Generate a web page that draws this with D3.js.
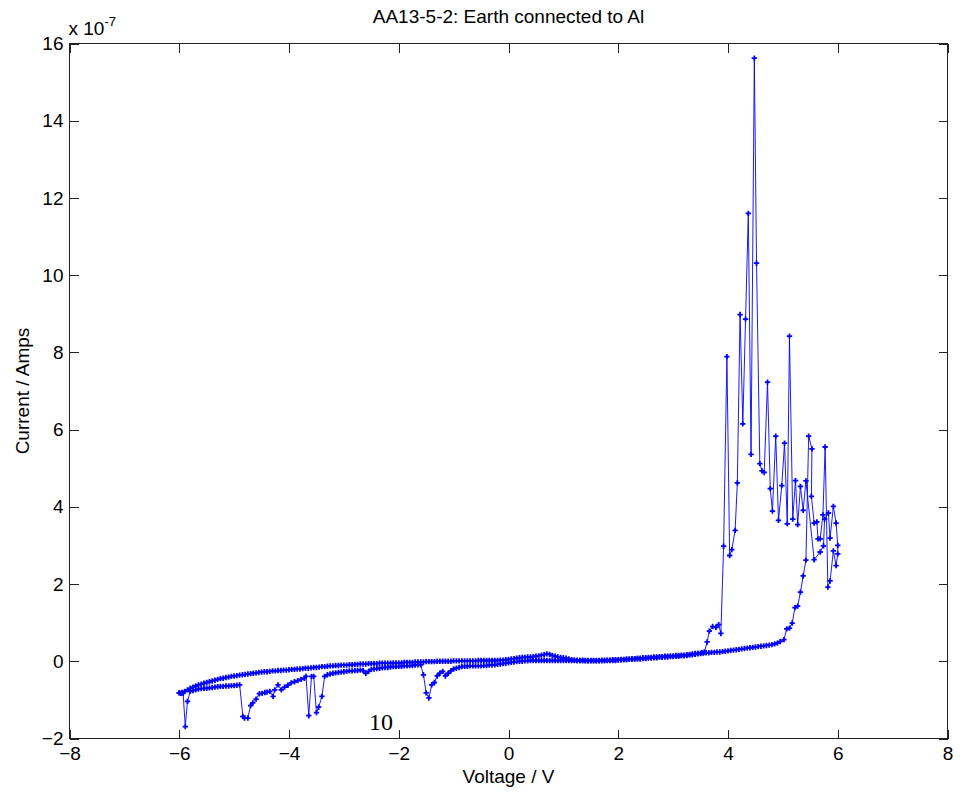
<!DOCTYPE html>
<html>
<head>
<meta charset="utf-8">
<script src="https://cdn.jsdelivr.net/npm/d3@7"></script>
<style>
  body { margin: 0; background: #fff; }
  svg { display: block; font-family: "Liberation Sans", Arial, sans-serif; }
</style>
</head>
<body>
<div id="chart"></div>
<script>
// axis ticks
const xTicks = [-8, -6, -4, -2, 0, 2, 4, 6, 8];
const yTicks = [-2, 0, 2, 4, 6, 8, 10, 12, 14, 16];

// forward sweep, -6 V up to +6 V  -> [volts, current in 1e-7 A]
const forwardSweep = [
  [-6.00,-0.82],[-5.95,-0.81],[-5.90,-0.78],[-5.85,-0.74],[-5.80,-0.70],[-5.75,-0.67],[-5.70,-0.64],[-5.65,-0.61],
  [-5.60,-0.59],[-5.55,-0.57],[-5.50,-0.55],[-5.45,-0.53],[-5.40,-0.51],[-5.35,-0.49],[-5.30,-0.47],[-5.25,-0.45],
  [-5.20,-0.44],[-5.15,-0.42],[-5.10,-0.41],[-5.05,-0.39],[-5.00,-0.38],[-4.95,-0.37],[-4.90,-0.36],[-4.85,-0.35],
  [-4.80,-0.34],[-4.75,-0.33],[-4.70,-0.32],[-4.65,-0.31],[-4.60,-0.30],[-4.55,-0.29],[-4.50,-0.28],[-4.45,-0.27],
  [-4.40,-0.27],[-4.35,-0.26],[-4.30,-0.25],[-4.25,-0.25],[-4.20,-0.24],[-4.15,-0.24],[-4.10,-0.23],[-4.05,-0.23],
  [-4.00,-0.22],[-3.95,-0.21],[-3.90,-0.21],[-3.85,-0.20],[-3.80,-0.20],[-3.75,-0.19],[-3.70,-0.18],[-3.65,-0.18],
  [-3.60,-0.17],[-3.55,-0.16],[-3.50,-0.16],[-3.45,-0.15],[-3.40,-0.14],[-3.35,-0.14],[-3.30,-0.13],[-3.25,-0.12],
  [-3.20,-0.12],[-3.15,-0.11],[-3.10,-0.11],[-3.05,-0.10],[-3.00,-0.10],[-2.95,-0.10],[-2.90,-0.09],[-2.85,-0.09],
  [-2.80,-0.08],[-2.75,-0.08],[-2.70,-0.07],[-2.65,-0.07],[-2.60,-0.07],[-2.55,-0.06],[-2.50,-0.06],[-2.45,-0.06],
  [-2.40,-0.06],[-2.35,-0.05],[-2.30,-0.05],[-2.25,-0.05],[-2.20,-0.05],[-2.15,-0.05],[-2.10,-0.04],[-2.05,-0.04],
  [-2.00,-0.04],[-1.95,-0.04],[-1.90,-0.03],[-1.85,-0.03],[-1.80,-0.03],[-1.75,-0.03],[-1.70,-0.02],[-1.65,-0.02],
  [-1.60,-0.02],[-1.55,-0.02],[-1.50,-0.01],[-1.45,-0.01],[-1.40,-0.01],[-1.35,-0.01],[-1.30,0.00],[-1.25,0.00],
  [-1.20,0.00],[-1.15,0.00],[-1.10,0.00],[-1.05,0.00],[-1.00,0.01],[-0.95,0.01],[-0.90,0.01],[-0.85,0.01],
  [-0.80,0.01],[-0.75,0.01],[-0.70,0.01],[-0.65,0.01],[-0.60,0.01],[-0.55,0.02],[-0.50,0.02],[-0.45,0.02],
  [-0.40,0.02],[-0.35,0.02],[-0.30,0.02],[-0.25,0.02],[-0.20,0.02],[-0.15,0.03],[-0.10,0.03],[-0.05,0.04],
  [0.00,0.05],[0.05,0.06],[0.10,0.07],[0.15,0.08],[0.20,0.09],[0.25,0.10],[0.30,0.10],[0.35,0.11],
  [0.40,0.11],[0.45,0.12],[0.50,0.13],[0.55,0.14],[0.60,0.16],[0.65,0.17],[0.70,0.19],[0.75,0.18],
  [0.80,0.15],[0.85,0.13],[0.90,0.11],[0.95,0.10],[1.00,0.09],[1.05,0.08],[1.10,0.06],[1.15,0.04],
  [1.20,0.03],[1.25,0.02],[1.30,0.02],[1.35,0.02],[1.40,0.01],[1.45,0.01],[1.50,0.01],[1.55,0.01],
  [1.60,0.01],[1.65,0.01],[1.70,0.01],[1.75,0.01],[1.80,0.02],[1.85,0.02],[1.90,0.02],[1.95,0.02],
  [2.00,0.03],[2.05,0.03],[2.10,0.04],[2.15,0.04],[2.20,0.05],[2.25,0.05],[2.30,0.06],[2.35,0.06],
  [2.40,0.06],[2.45,0.07],[2.50,0.07],[2.55,0.08],[2.60,0.08],[2.65,0.09],[2.70,0.09],[2.75,0.10],
  [2.80,0.10],[2.85,0.11],[2.90,0.11],[2.95,0.12],[3.00,0.12],[3.05,0.13],[3.10,0.13],[3.15,0.14],
  [3.20,0.14],[3.25,0.15],[3.30,0.16],[3.35,0.17],[3.40,0.18],[3.45,0.19],[3.50,0.20],[3.55,0.21],
  [3.60,0.22],[3.65,0.22],[3.70,0.23],[3.75,0.23],[3.80,0.24],[3.85,0.24],[3.90,0.25],[3.95,0.26],
  [4.00,0.27],[4.05,0.28],[4.10,0.29],[4.15,0.30],[4.20,0.31],[4.25,0.32],[4.30,0.33],[4.35,0.34],
  [4.40,0.35],[4.45,0.36],[4.50,0.37],[4.55,0.38],[4.60,0.39],[4.65,0.40],[4.70,0.41],[4.75,0.42],
  [4.80,0.43],[4.85,0.45],[4.90,0.47],[4.95,0.51],[5.02,0.56],[5.07,0.84],[5.12,0.86],[5.17,0.99],
  [5.22,1.39],[5.27,1.43],[5.32,1.79],[5.37,2.21],[5.42,2.62],[5.47,5.83],[5.53,5.50],[5.52,4.27],
  [5.57,3.58],[5.62,3.61],[5.64,3.17],[5.68,3.17],[5.73,3.79],[5.77,5.55],[5.82,1.92],[5.86,2.08],
  [5.92,2.86],[5.97,2.48],[6.00,2.78]
];

// reverse sweep, +6 V back down to -6 V
const reverseSweep = [
  [6.00,3.00],[5.97,3.58],[5.92,4.01],[5.86,3.19],[5.83,3.84],[5.76,3.68],[5.74,2.99],[5.68,2.83],
  [5.57,2.63],[5.42,4.67],[5.37,3.91],[5.32,4.53],[5.27,3.54],[5.23,4.68],[5.18,3.68],[5.12,8.42],
  [5.08,3.56],[5.03,5.65],[4.98,4.55],[4.92,3.65],[4.87,5.83],[4.81,3.89],[4.77,4.47],[4.72,7.23],
  [4.66,4.89],[4.62,4.93],[4.58,5.12],[4.52,10.31],[4.48,15.62],[4.42,5.36],[4.37,11.60],[4.32,8.86],
  [4.27,6.15],[4.22,8.98],[4.17,4.62],[4.13,3.39],[4.07,2.89],[4.03,2.74],[3.98,7.89],[3.92,2.98],
  [3.87,0.72],[3.83,0.95],[3.78,0.88],[3.72,0.90],[3.66,0.78],[3.62,0.50],[3.57,0.24],[3.52,0.22],
  [3.45,0.21],[3.40,0.20],[3.35,0.19],[3.30,0.18],[3.25,0.17],[3.20,0.16],[3.15,0.16],[3.10,0.15],
  [3.05,0.15],[3.00,0.14],[2.95,0.14],[2.90,0.13],[2.85,0.13],[2.80,0.12],[2.75,0.12],[2.70,0.11],
  [2.65,0.11],[2.60,0.10],[2.55,0.10],[2.50,0.09],[2.45,0.09],[2.40,0.08],[2.35,0.08],[2.30,0.07],
  [2.25,0.07],[2.20,0.06],[2.15,0.06],[2.10,0.05],[2.05,0.05],[2.00,0.04],[1.95,0.04],[1.90,0.04],
  [1.85,0.03],[1.80,0.03],[1.75,0.03],[1.70,0.03],[1.65,0.02],[1.60,0.02],[1.55,0.02],[1.50,0.02],
  [1.45,0.02],[1.40,0.02],[1.35,0.02],[1.30,0.02],[1.25,0.02],[1.20,0.02],[1.15,0.02],[1.10,0.02],
  [1.05,0.02],[1.00,0.02],[0.95,0.02],[0.90,0.02],[0.85,0.02],[0.80,0.02],[0.75,0.02],[0.70,0.02],
  [0.65,0.02],[0.60,0.02],[0.55,0.02],[0.50,0.02],[0.45,0.02],[0.40,0.02],[0.35,0.01],[0.30,0.01],
  [0.25,0.00],[0.20,0.00],[0.15,-0.01],[0.10,-0.02],[0.05,-0.03],[0.00,-0.04],[-0.05,-0.05],[-0.10,-0.06],
  [-0.15,-0.07],[-0.20,-0.08],[-0.25,-0.09],[-0.30,-0.10],[-0.35,-0.10],[-0.40,-0.11],[-0.45,-0.11],[-0.50,-0.12],
  [-0.55,-0.12],[-0.60,-0.12],[-0.65,-0.12],[-0.70,-0.12],[-0.75,-0.13],[-0.80,-0.13],[-0.85,-0.14],[-0.90,-0.16],
  [-0.95,-0.18],[-1.00,-0.20],[-1.05,-0.25],[-1.10,-0.31],[-1.15,-0.38],[-1.20,-0.26],[-1.25,-0.31],[-1.30,-0.38],
  [-1.35,-0.55],[-1.40,-0.61],[-1.45,-0.95],[-1.50,-0.82],[-1.55,-0.35],[-1.60,-0.09],[-1.65,-0.09],[-1.70,-0.10],
  [-1.75,-0.11],[-1.80,-0.11],[-1.85,-0.12],[-1.90,-0.12],[-1.95,-0.13],[-2.00,-0.13],[-2.05,-0.14],[-2.10,-0.14],
  [-2.15,-0.15],[-2.20,-0.16],[-2.25,-0.16],[-2.30,-0.17],[-2.35,-0.18],[-2.40,-0.19],[-2.45,-0.20],[-2.50,-0.21],
  [-2.55,-0.26],[-2.60,-0.31],[-2.65,-0.24],[-2.70,-0.23],[-2.75,-0.24],[-2.80,-0.24],[-2.85,-0.25],[-2.90,-0.25],
  [-2.95,-0.26],[-3.00,-0.27],[-3.05,-0.28],[-3.10,-0.29],[-3.15,-0.30],[-3.20,-0.31],[-3.25,-0.33],[-3.30,-0.35],
  [-3.35,-0.39],[-3.40,-0.91],[-3.46,-1.19],[-3.50,-1.33],[-3.55,-0.39],[-3.59,-0.39],[-3.64,-1.41],[-3.69,-0.39],
  [-3.72,-0.44],[-3.78,-0.47],[-3.84,-0.50],[-3.90,-0.53],[-3.96,-0.56],[-4.02,-0.62],[-4.08,-0.67],[-4.14,-0.74],
  [-4.20,-0.61],[-4.26,-0.74],[-4.29,-0.91],[-4.35,-0.78],[-4.40,-0.80],[-4.44,-0.81],[-4.49,-0.83],[-4.54,-0.84],
  [-4.60,-0.98],[-4.66,-1.08],[-4.70,-1.15],[-4.75,-1.47],[-4.81,-1.47],[-4.84,-1.43],[-4.90,-0.61],[-4.95,-0.62],
  [-5.00,-0.63],[-5.05,-0.63],[-5.10,-0.64],[-5.15,-0.64],[-5.20,-0.65],[-5.25,-0.65],[-5.30,-0.66],[-5.35,-0.67],
  [-5.40,-0.68],[-5.45,-0.69],[-5.50,-0.70],[-5.55,-0.70],[-5.60,-0.71],[-5.65,-0.72],[-5.70,-0.74],[-5.75,-0.76],
  [-5.80,-0.78],[-5.85,-1.04],[-5.89,-1.69],[-5.93,-0.83],[-5.97,-0.83],[-6.00,-0.82]
];

const points = forwardSweep.concat(reverseSweep);

const w = 962, h = 796;
const plot = {left: 69.5, right: 947.5, top: 43.5, bottom: 738.5};

const svg = d3.select("#chart")
  .append("svg")
  .attr("width", w)
  .attr("height", h);

svg.append("rect").attr("width", w).attr("height", h).attr("fill", "#fff");

const x = d3.scaleLinear().domain([-8, 8]).range([plot.left, plot.right]);
const y = d3.scaleLinear().domain([-2, 16]).range([plot.bottom, plot.top]);

const tickLen = 9;
const fontSize = 19;

// axes, MATLAB style: ticks pointing inwards on all 4 sides
const xAxis = d3.axisBottom(x).tickValues(xTicks).tickSizeInner(-tickLen).tickSizeOuter(0).tickPadding(8);
const yAxis = d3.axisLeft(y).tickValues(yTicks).tickSizeInner(-tickLen).tickSizeOuter(0).tickPadding(6);

const gx = svg.append("g")
  .attr("transform", "translate(0," + plot.bottom + ")")
  .call(xAxis);
const gy = svg.append("g")
  .attr("transform", "translate(" + plot.left + ",0)")
  .call(yAxis);

svg.append("g")
  .attr("transform", "translate(0," + plot.top + ")")
  .call(d3.axisTop(x).tickValues(xTicks).tickSizeInner(-tickLen).tickSizeOuter(0).tickFormat(""));
svg.append("g")
  .attr("transform", "translate(" + plot.right + ",0)")
  .call(d3.axisRight(y).tickValues(yTicks).tickSizeInner(-tickLen).tickSizeOuter(0).tickFormat(""));

svg.selectAll(".domain").remove();
svg.selectAll(".tick line").attr("stroke", "#222").attr("shape-rendering", "crispEdges");
svg.selectAll(".tick text")
  .attr("fill", "#000")
  .style("font-size", fontSize + "px")
  .style("font-family", "'Liberation Sans', Arial, sans-serif");

// axes box
svg.append("rect")
  .attr("x", plot.left)
  .attr("y", plot.top)
  .attr("width", plot.right - plot.left)
  .attr("height", plot.bottom - plot.top)
  .attr("fill", "none")
  .attr("stroke", "#222")
  .attr("shape-rendering", "crispEdges");

// data line + markers
const line = d3.line().x(d => x(d[0])).y(d => y(d[1]));

svg.append("path")
  .datum(points)
  .attr("d", line)
  .attr("fill", "none")
  .attr("stroke", "#0000ff")
  .attr("stroke-width", 0.9)
  .attr("stroke-linejoin", "round");

const marker = d3.symbol().type(d3.symbolCross).size(16);
svg.append("g")
  .selectAll("path")
  .data(points)
  .enter()
  .append("path")
  .attr("d", marker)
  .attr("transform", d => "translate(" + x(d[0]) + "," + y(d[1]) + ")")
  .attr("fill", "#0000ff");

// exponent label
const expo = svg.append("text")
  .attr("x", plot.left - 1)
  .attr("y", 35)
  .style("font-size", fontSize + "px")
  .text("x 10");
expo.append("tspan")
  .attr("dy", -9)
  .style("font-size", "13px")
  .text("-7");

// title
svg.append("text")
  .attr("x", (plot.left + plot.right) / 2)
  .attr("y", 23)
  .style("text-anchor", "middle")
  .style("font-size", fontSize + "px")
  .text("AA13-5-2: Earth connected to Al");

// axis labels
svg.append("text")
  .attr("x", (plot.left + plot.right) / 2)
  .attr("y", 783)
  .style("text-anchor", "middle")
  .style("font-size", fontSize + "px")
  .text("Voltage / V");

svg.append("text")
  .attr("x", 29)
  .attr("y", (plot.top + plot.bottom) / 2)
  .style("text-anchor", "middle")
  .style("font-size", fontSize + "px")
  .attr("transform", function() {
    const tx = d3.select(this).attr("x");
    const ty = d3.select(this).attr("y");
    return "rotate(-90 " + tx + " " + ty + ")";
  })
  .text("Current / Amps");

// stray serif label inside the axes
svg.append("text")
  .attr("x", 369)
  .attr("y", 730)
  .style("font-family", "'Liberation Serif', 'Times New Roman', serif")
  .style("font-size", "24px")
  .text("10");
</script>
</body>
</html>
